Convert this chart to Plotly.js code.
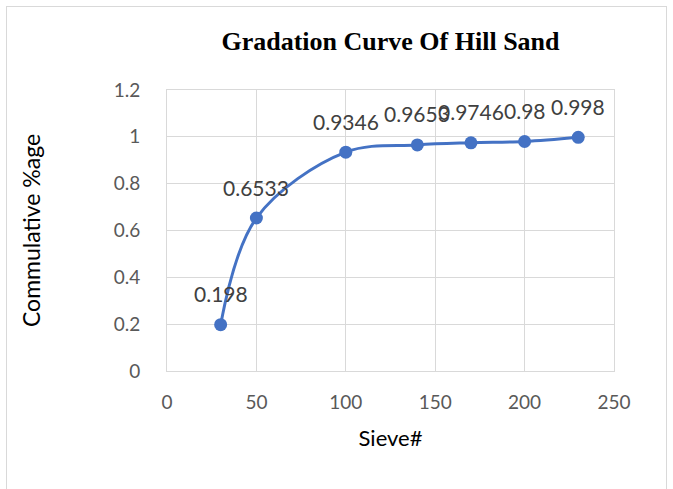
<!DOCTYPE html>
<html><head><meta charset="utf-8">
<script src="https://cdn.plot.ly/plotly-3.0.1.min.js"></script>
<style>
html,body{margin:0;padding:0;overflow:hidden;background:#fff;}
#frame{position:absolute;left:6px;top:6px;width:661px;height:520px;border:1px solid #d9d9d9;box-sizing:border-box;}
#chart{position:absolute;left:0;top:0;width:673px;height:489px;}
</style></head>
<body>
<div id="frame"></div>
<div id="chart"></div>
<script>
const sieve = [30, 50, 100, 140, 170, 200, 230];
const cumulative = [0.198, 0.6533, 0.9346, 0.9653, 0.9746, 0.98, 0.998];
const pointLabels = ["0.198", "0.6533", "0.9346", "0.9653", "0.9746", "0.98", "0.998"];
const xTicks = [0, 50, 100, 150, 200, 250];
const yTicks = [0, 0.2, 0.4, 0.6, 0.8, 1, 1.2];
const yTickText = ["0", "0.2", "0.4", "0.6", "0.8", "1", "1.2"];

const fam = "Lato, 'Open Sans', sans-serif";
const labelFont = {family: fam, size: 21, color: "#404040"};
const annotations = sieve.map((x, i) => ({
  x: x, y: cumulative[i], xref: "x", yref: "y", text: pointLabels[i],
  showarrow: false, yanchor: "middle", yshift: 31, font: labelFont
}));

const trace = {
  x: sieve, y: cumulative, type: "scatter", mode: "lines+markers",
  line: {color: "#4472C4", width: 3, shape: "spline", smoothing: 1},
  marker: {color: "#4472C4", size: 13},
  hoverinfo: "skip"
};

const tickFont = {family: fam, size: 19, color: "#595959"};
const layout = {
  width: 673, height: 489,
  paper_bgcolor: "rgba(0,0,0,0)", plot_bgcolor: "rgba(0,0,0,0)",
  margin: {l: 167, r: 59, t: 90, b: 118},
  showlegend: false,
  title: {text: "<b>Gradation Curve Of Hill Sand</b>", x: 0.5, xref: "paper", y: 0.917, yanchor: "middle",
    font: {family: "'Liberation Serif', 'Times New Roman', serif", size: 26, color: "#000"}},
  xaxis: {range: [0, 250], tickvals: xTicks, ticktext: xTicks.map(String), showgrid: true,
    gridcolor: "#d9d9d9", gridwidth: 1, zeroline: false, showline: true, mirror: true,
    linecolor: "#d9d9d9", ticks: "", tickfont: tickFont, ticklabelstandoff: 14, fixedrange: true,
    title: {text: "Sieve#", font: {family: fam, size: 22, color: "#000"}, standoff: 18}},
  yaxis: {range: [0, 1.2], tickvals: yTicks, ticktext: yTickText, showgrid: true,
    gridcolor: "#d9d9d9", gridwidth: 1, zeroline: false, showline: true, mirror: true,
    linecolor: "#d9d9d9", ticks: "", tickfont: tickFont, ticklabelstandoff: 22, fixedrange: true,
    title: {text: "Commulative %age", font: {family: fam, size: 23, color: "#000"}, standoff: 66}},
  annotations: annotations
};
Plotly.newPlot("chart", [trace], layout, {displayModeBar: false, staticPlot: true});
</script>
</body></html>
